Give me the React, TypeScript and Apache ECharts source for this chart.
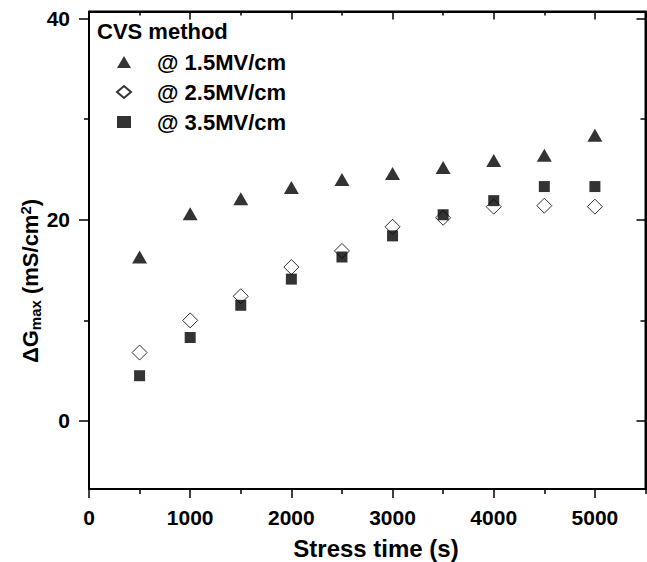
import React, { useEffect, useRef } from "react";
import * as echarts from "echarts";

const stressTimes = [500, 1000, 1500, 2000, 2500, 3000, 3500, 4000, 4500, 5000];
const dg15 = [16.3, 20.6, 22.1, 23.2, 24.0, 24.6, 25.2, 25.9, 26.4, 28.4];
const dg25 = [6.8, 10.0, 12.4, 15.3, 16.9, 19.3, 20.2, 21.3, 21.4, 21.3];
const dg35 = [4.5, 8.3, 11.5, 14.1, 16.3, 18.4, 20.5, 21.9, 23.3, 23.3];
const seriesNames = ["@ 1.5MV/cm", "@ 2.5MV/cm", "@ 3.5MV/cm"];
const xMajor = [0, 1000, 2000, 3000, 4000, 5000];
const xMinor = [500, 1500, 2500, 3500, 4500, 5500];
const yMajor = [0, 20, 40];
const yMinor = [10, 30];

const FONT = "Liberation Sans, Arial, sans-serif";
const W = 647;
const H = 562;
const G = { left: 89, top: 11.5, right: 1.5, bottom: 73 };

export default function App() {
  const ref = useRef<HTMLDivElement>(null);
  useEffect(() => {
    if (!ref.current) return;
    const chart = echarts.init(ref.current, null, { renderer: "svg" });
    const pair = (ys: number[]) => stressTimes.map((x, i) => [x, ys[i]]);
    const lineStyle = { color: "#000", width: 1.5 };
    const xBase = { type: "value", min: 0, max: 5500, splitLine: { show: false } };
    const yBase = { type: "value", min: -6.76, max: 40.7, splitLine: { show: false } };
    const frame = (show: boolean) => ({ show, onZero: false, lineStyle: { color: "#000", width: 2 } });
    const dummy = (xi: number, yi: number) => ({
      type: "scatter",
      xAxisIndex: xi,
      yAxisIndex: yi,
      data: [],
      silent: true,
    });
    const right = W - G.right;
    const bottom = H - G.bottom;
    chart.setOption({
      animation: false,
      grid: { ...G, outerBoundsMode: "none", containLabel: false },
      xAxis: [
        {
          ...xBase,
          position: "bottom",
          axisLine: frame(true),
          axisTick: { customValues: xMajor, length: 9, lineStyle },
          axisLabel: {
            customValues: xMajor,
            formatter: (v: number) => String(v),
            margin: 18,
            fontSize: 21,
            fontWeight: "bold",
            fontFamily: FONT,
            color: "#000",
          },
        },
        {
          ...xBase,
          position: "bottom",
          axisLine: frame(false),
          axisTick: { customValues: xMinor, length: 5, lineStyle },
          axisLabel: { show: false },
        },
        {
          ...xBase,
          position: "top",
          axisLine: frame(true),
          axisTick: { customValues: xMajor, length: 8, inside: true, lineStyle },
          axisLabel: { show: false },
        },
        {
          ...xBase,
          position: "top",
          axisLine: frame(false),
          axisTick: { customValues: xMinor, length: 4, inside: true, lineStyle },
          axisLabel: { show: false },
        },
      ],
      yAxis: [
        {
          ...yBase,
          position: "left",
          axisLine: frame(true),
          axisTick: { customValues: yMajor, length: 10, lineStyle },
          axisLabel: {
            customValues: yMajor,
            formatter: (v: number) => String(v),
            margin: 19,
            fontSize: 21,
            fontWeight: "bold",
            fontFamily: FONT,
            color: "#000",
          },
        },
        {
          ...yBase,
          position: "left",
          axisLine: frame(false),
          axisTick: { customValues: yMinor, length: 5, lineStyle },
          axisLabel: { show: false },
        },
        {
          ...yBase,
          position: "right",
          axisLine: frame(true),
          axisTick: { customValues: yMajor, length: 9, inside: true, lineStyle },
          axisLabel: { show: false },
        },
        {
          ...yBase,
          position: "right",
          axisLine: frame(false),
          axisTick: { customValues: yMinor, length: 5, inside: true, lineStyle },
          axisLabel: { show: false },
        },
      ],
      legend: {
        orient: "vertical",
        left: 111,
        top: 46,
        itemWidth: 14,
        itemHeight: 12,
        itemGap: 8,
        data: seriesNames,
        textStyle: {
          fontSize: 22,
          lineHeight: 22,
          fontWeight: "bold",
          fontFamily: FONT,
          color: "#000",
          padding: [0, 0, 0, 21],
        },
      },
      graphic: [
        {
          type: "line",
          silent: true,
          z: 50,
          shape: { x1: G.left, y1: G.top, x2: right, y2: G.top },
          style: { stroke: "#000", lineWidth: 2 },
        },
        {
          type: "line",
          silent: true,
          z: 50,
          shape: { x1: right, y1: G.top, x2: right, y2: bottom },
          style: { stroke: "#000", lineWidth: 2 },
        },
        {
          type: "text",
          left: 97,
          top: 20,
          style: {
            text: "CVS method",
            fontSize: 22,
            fontWeight: "bold",
            fontFamily: FONT,
            fill: "#000",
          },
        },
        {
          type: "text",
          x: 376,
          y: 548,
          style: {
            text: "Stress time (s)",
            align: "center",
            verticalAlign: "middle",
            fontSize: 24,
            fontWeight: "bold",
            fontFamily: FONT,
            fill: "#000",
          },
        },
        {
          type: "text",
          x: 30,
          y: 281,
          rotation: Math.PI / 2,
          style: {
            text: "{a|ΔG}{b|max}{a| (mS/cm}{c|2}{a|)}",
            align: "center",
            verticalAlign: "middle",
            fill: "#000",
            rich: {
              a: { fontSize: 22, lineHeight: 34, fontWeight: "bold", fontFamily: FONT, fill: "#000", verticalAlign: "middle" },
              b: { fontSize: 15, lineHeight: 15, fontWeight: "bold", fontFamily: FONT, fill: "#000", verticalAlign: "bottom", padding: [0, 0, 4, 0] },
              c: { fontSize: 15, lineHeight: 15, fontWeight: "bold", fontFamily: FONT, fill: "#000", verticalAlign: "top", padding: [5, 0, 0, 0] },
            },
          },
        },
      ],
      series: [
        {
          name: seriesNames[0],
          type: "scatter",
          xAxisIndex: 0,
          yAxisIndex: 0,
          symbol: "triangle",
          symbolSize: [15, 13],
          itemStyle: { color: "#000" },
          data: pair(dg15),
        },
        {
          name: seriesNames[1],
          type: "scatter",
          xAxisIndex: 0,
          yAxisIndex: 0,
          symbol: "diamond",
          symbolSize: [15, 15],
          itemStyle: { color: "#fff", borderColor: "#000", borderWidth: 1 },
          data: pair(dg25),
        },
        {
          name: seriesNames[2],
          type: "scatter",
          xAxisIndex: 0,
          yAxisIndex: 0,
          symbol: "rect",
          symbolSize: 11,
          itemStyle: { color: "#000" },
          data: pair(dg35),
        },
        dummy(1, 1),
        dummy(2, 2),
        dummy(3, 3),
      ],
    });
    return () => chart.dispose();
  }, []);
  return (
    <div
      ref={ref}
      style={{ position: "absolute", left: 0, top: 0, width: W, height: H, background: "#fff" }}
    />
  );
}
